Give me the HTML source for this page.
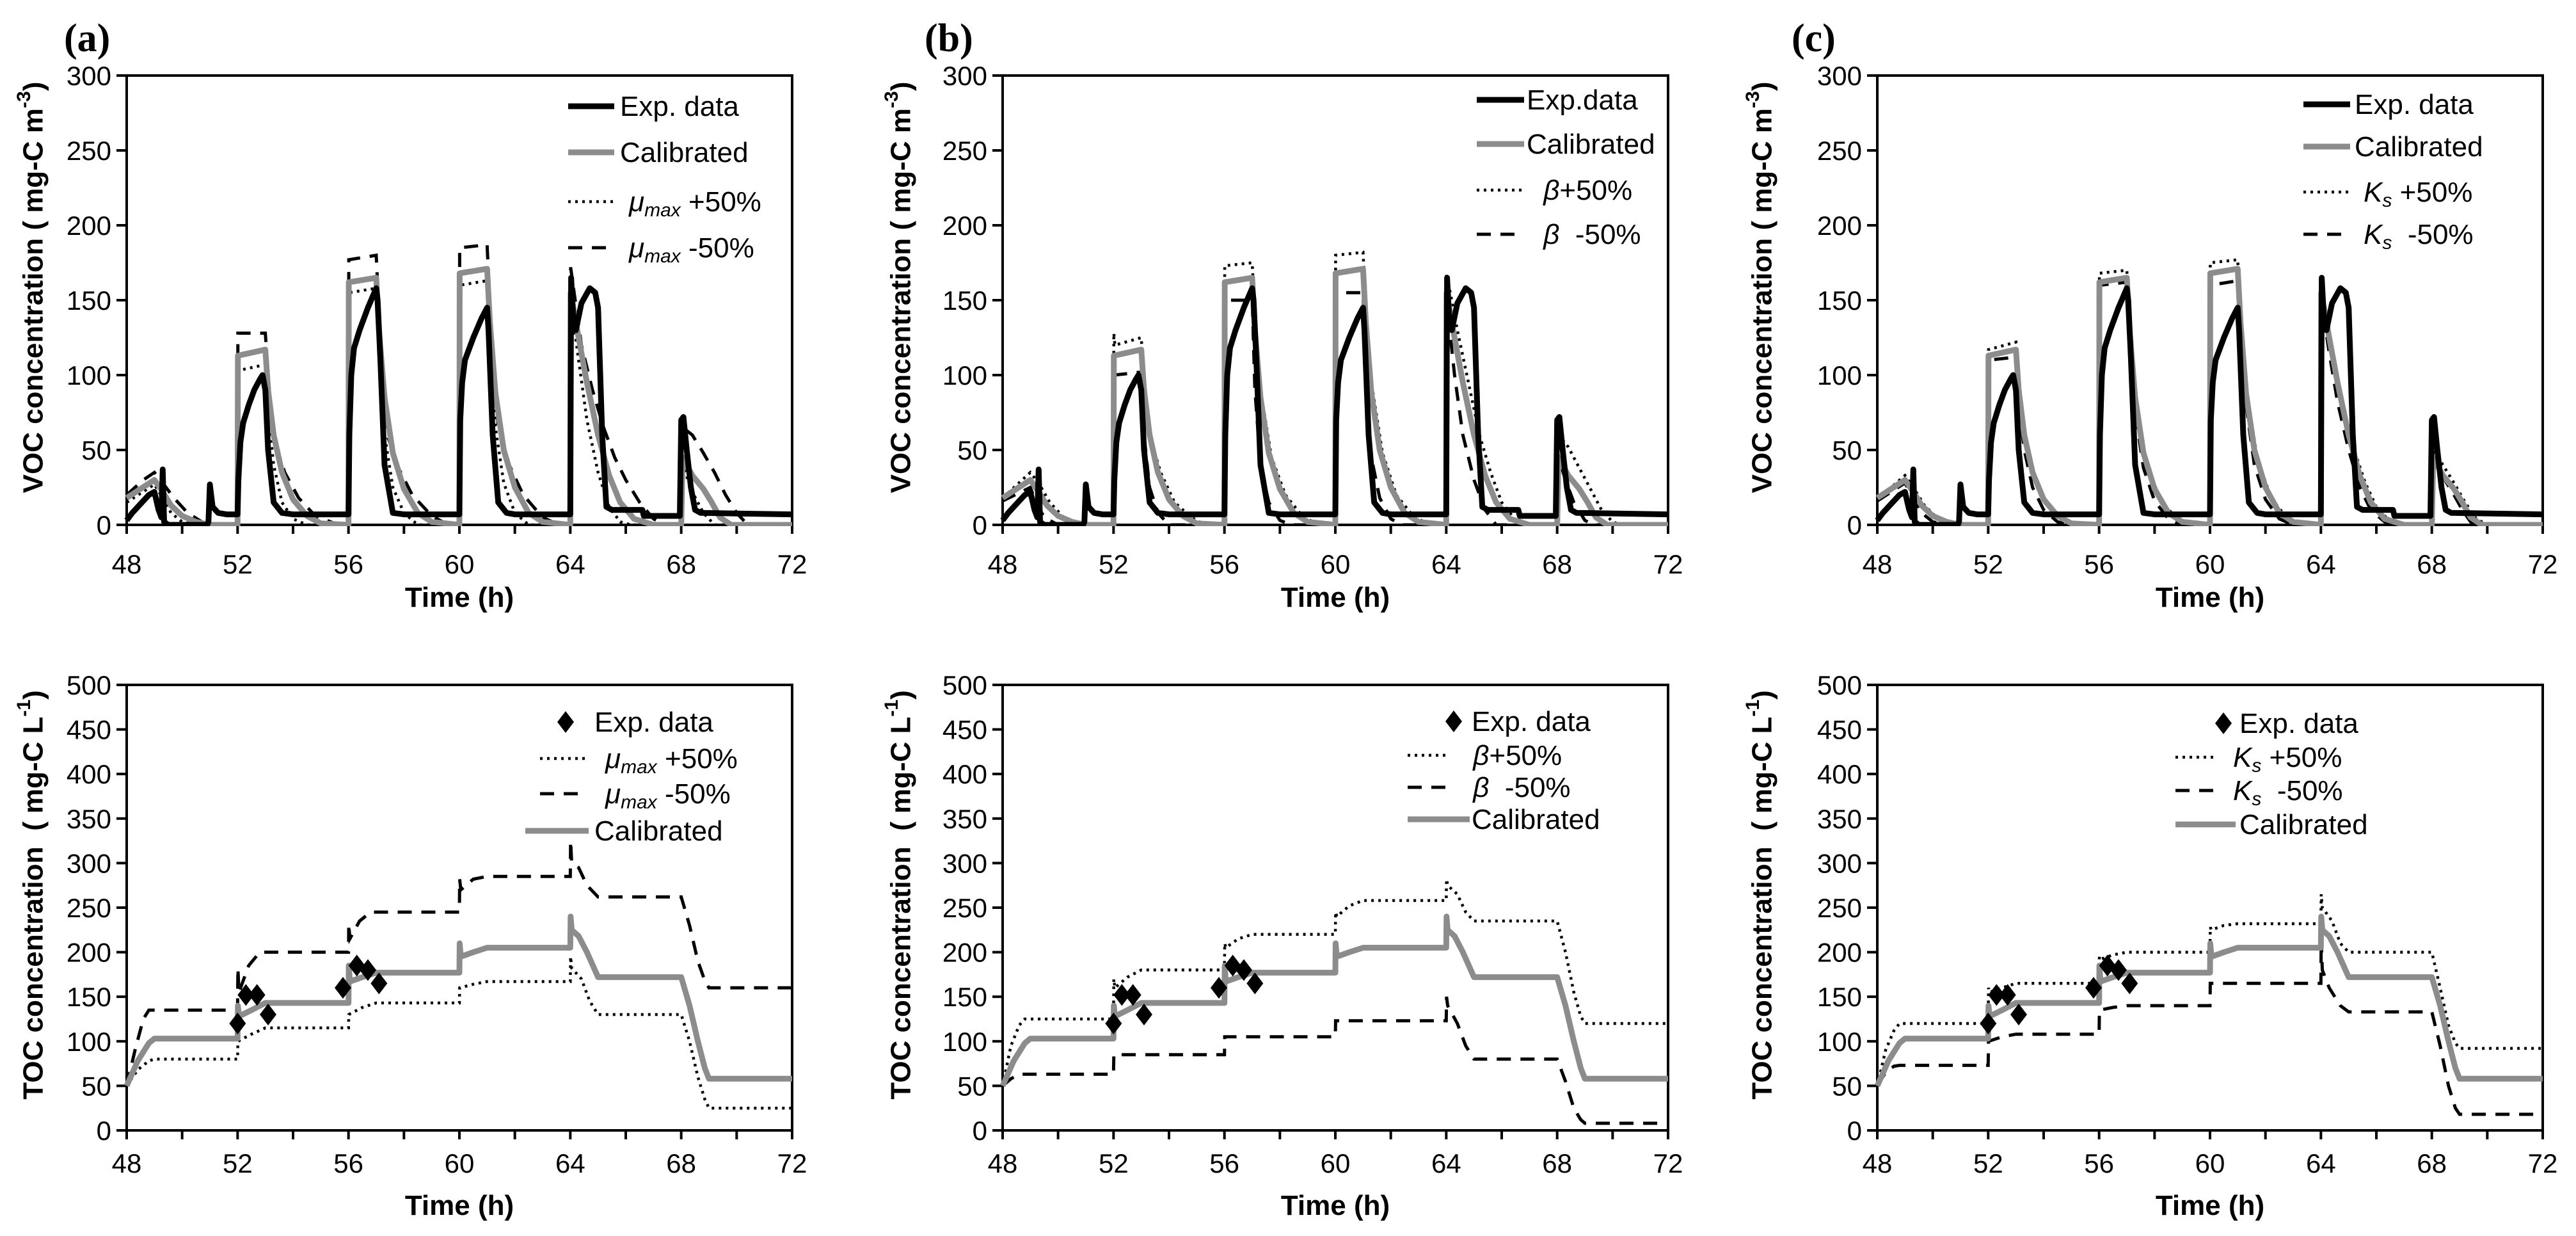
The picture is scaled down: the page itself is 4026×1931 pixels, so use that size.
<!DOCTYPE html>
<html><head><meta charset="utf-8">
<style>
html,body{margin:0;padding:0;background:#fff;}
svg{display:block;font-family:"Liberation Sans",Arial,sans-serif;}
</style></head>
<body>
<svg id="fig" width="4026" height="1931" viewBox="0 0 4026 1931" xmlns="http://www.w3.org/2000/svg"></svg>
<script>
// ===== DATA =====
const xTicks = [48,52,56,60,64,68,72];
const vocTicks = [0,50,100,150,200,250,300];
const tocTicks = [0,50,100,150,200,250,300,350,400,450,500];

const vocExp = [[48,3],[48.2,8],[48.5,14],[48.8,20],[49.0,22],[49.15,10],[49.25,5],[49.3,37],[49.35,2],[49.5,0],[50.9,0],[50.95,2],[51.0,27],[51.1,12],[51.3,8],[51.6,7],[52.0,7],[52.03,30],[52.1,55],[52.2,68],[52.4,80],[52.6,90],[52.8,97],[52.9,100],[53.0,90],[53.1,50],[53.3,15],[53.6,8],[54,7],[56.0,7],[56.03,60],[56.1,100],[56.2,118],[56.4,130],[56.7,145],[57.0,158],[57.05,150],[57.15,110],[57.3,40],[57.6,8],[58,7],[60.0,7],[60.03,70],[60.1,95],[60.2,110],[60.5,125],[60.8,138],[61.0,145],[61.05,130],[61.2,60],[61.4,15],[61.7,8],[62,7],[64.0,7],[64.03,165],[64.1,140],[64.2,130],[64.4,148],[64.7,158],[64.9,155],[65.0,145],[65.15,60],[65.3,12],[65.5,10],[66.6,10],[66.65,6],[67.8,6],[67.95,6],[68.0,70],[68.08,72],[68.2,50],[68.35,25],[68.5,10],[68.7,8],[72,7]];
const vocCal = [[48,18],[48.5,24],[49,30],[49.3,22],[49.6,13],[50,6],[50.5,2],[51,0],[52,0],[52.01,113],[53,117],[53.1,90],[53.3,60],[53.6,35],[54,17],[54.5,6],[55,1],[56,0],[56.01,162],[57,165],[57.1,130],[57.3,85],[57.6,48],[58,24],[58.5,8],[59,2],[60,0],[60.01,168],[61,171],[61.1,135],[61.3,88],[61.6,50],[62,25],[62.5,8],[63,2],[64,0],[64.01,155],[64.3,125],[64.6,95],[65,60],[65.4,33],[65.8,15],[66.3,4],[67,0],[68,0],[68.05,45],[68.4,33],[68.8,24],[69.1,15],[69.4,5],[69.8,0],[72,0]];
const vocPlusA = [[48,15],[49,27],[49.3,18],[49.6,8],[50,2],[50.5,0],[52,0],[52.01,103],[53,107],[53.1,75],[53.3,40],[53.6,15],[54,4],[54.5,0],[56,0],[56.01,155],[57,158],[57.1,110],[57.3,60],[57.6,25],[58,8],[58.5,0],[60,0],[60.01,160],[61,163],[61.1,115],[61.3,65],[61.6,28],[62,8],[62.5,0],[64,0],[64.01,150],[64.3,110],[64.6,70],[65,35],[65.4,12],[65.8,2],[66.2,0],[68,0],[68.05,40],[68.4,22],[68.8,8],[69.2,0],[72,0]];
const vocMinusA = [[48,20],[48.6,30],[49,35],[49.3,28],[49.7,18],[50.2,8],[50.8,1],[51.2,0],[52,0],[52.01,128],[53,128],[53.1,100],[53.3,58],[53.7,35],[54.2,18],[54.8,6],[55.5,1],[56,0],[56.01,177],[57,180],[57.1,140],[57.4,60],[57.8,38],[58.3,20],[59,6],[59.6,0],[60,0],[60.01,185],[61,187],[61.1,145],[61.4,65],[61.8,40],[62.3,20],[63,5],[63.6,0],[64,0],[64.01,172],[64.4,120],[64.8,90],[65.2,65],[65.6,45],[66,30],[66.5,15],[67,4],[67.4,0],[68,0],[68.05,65],[68.4,60],[68.8,48],[69.2,35],[69.6,20],[70,8],[70.4,0],[72,0]];
const vocPlusB = [[48,18],[49,35],[49.3,28],[49.7,15],[50.2,5],[50.8,0],[52,0],[52.01,128],[52.05,120],[53,125],[53.1,95],[53.3,60],[53.7,35],[54.2,15],[54.8,5],[55.3,0],[56,0],[56.01,173],[57,175],[57.1,140],[57.3,90],[57.7,45],[58.2,20],[58.8,6],[59.4,0],[60,0],[60.01,180],[61,182],[61.1,145],[61.3,95],[61.7,48],[62.2,20],[62.8,6],[63.4,0],[64,0],[64.01,168],[64.4,130],[64.8,95],[65.2,60],[65.6,35],[66,15],[66.5,3],[67,0],[68,0],[68.05,60],[68.4,52],[68.8,38],[69.2,24],[69.6,10],[70,2],[70.3,0],[72,0]];
const vocMinusB = [[48,16],[49,25],[49.2,15],[49.5,5],[50,0],[52,0],[52.01,100],[53,102],[53.1,60],[53.3,25],[53.6,8],[54,0],[56,0],[56.01,150],[57,150],[57.1,90],[57.3,40],[57.6,15],[58,3],[58.4,0],[60,0],[60.01,155],[61,155],[61.1,95],[61.3,45],[61.6,18],[62,4],[62.4,0],[64,0],[64.01,150],[64.3,100],[64.6,60],[65,30],[65.4,10],[65.8,0],[68,0],[68.05,45],[68.3,30],[68.6,15],[69,3],[69.3,0],[72,0]];
const vocPlusC = [[48,17],[49,33],[49.3,25],[49.7,13],[50.2,4],[50.8,0],[52,0],[52.01,117],[53,122],[53.1,90],[53.3,58],[53.7,30],[54.2,12],[54.8,3],[55.3,0],[56,0],[56.01,168],[57,170],[57.1,135],[57.3,88],[57.7,42],[58.2,17],[58.8,4],[59.4,0],[60,0],[60.01,175],[61,177],[61.1,140],[61.3,92],[61.7,45],[62.2,18],[62.8,4],[63.4,0],[64,0],[64.01,158],[64.4,115],[64.8,80],[65.2,50],[65.6,28],[66,12],[66.5,2],[67,0],[68,0],[68.05,50],[68.4,40],[68.8,28],[69.2,15],[69.6,4],[70,0],[72,0]];
const vocMinusC = [[48,16],[49,28],[49.3,18],[49.6,8],[50,2],[50.5,0],[52,0],[52.01,110],[53,112],[53.1,80],[53.3,50],[53.6,25],[54,10],[54.5,2],[55,0],[56,0],[56.01,160],[57,162],[57.1,120],[57.3,75],[57.6,38],[58,16],[58.5,4],[59,0],[60,0],[60.01,160],[61,163],[61.1,125],[61.3,80],[61.6,40],[62,17],[62.5,4],[63,0],[64,0],[64.01,150],[64.3,115],[64.6,82],[65,50],[65.4,25],[65.8,10],[66.3,2],[66.8,0],[68,0],[68.05,45],[68.4,32],[68.8,20],[69.1,10],[69.4,2],[69.8,0],[72,0]];

const tocCal = [[48,50],[48.4,78],[48.8,98],[49,103],[52,103],[52.01,140],[52.05,128],[52.5,135],[53,143],[56,143],[56.01,185],[56.05,167],[56.5,172],[57,177],[60,177],[60.01,210],[60.05,195],[60.5,200],[61,205],[64,205],[64.01,240],[64.05,225],[64.3,218],[64.6,200],[65,172],[68,172],[68.3,140],[68.6,100],[68.85,70],[69,58],[72,58]];
const tocExp = [[52,120],[52.3,152],[52.7,152],[53.1,130],[55.8,160],[56.3,185],[56.7,180],[57.1,165]];
const tocPlusA = [[48,50],[48.4,68],[48.8,78],[49,80],[52,80],[52.01,100],[52.5,108],[53,115],[56,115],[56.01,130],[56.5,138],[57,143],[60,143],[60.01,160],[60.5,164],[61,167],[64,167],[64.01,195],[64.05,182],[64.4,170],[64.7,145],[65,130],[68,130],[68.3,100],[68.6,60],[68.85,35],[69,25],[72,25]];
const tocMinusA = [[48,50],[48.3,90],[48.6,125],[48.8,135],[52,135],[52.01,182],[52.05,155],[52.4,185],[52.8,200],[56,200],[56.01,232],[56.05,215],[56.4,235],[56.8,245],[60,245],[60.01,282],[60.05,270],[60.5,282],[61,285],[64,285],[64.01,325],[64.05,300],[64.3,295],[64.6,275],[65,262],[68,262],[68.3,230],[68.6,190],[68.85,168],[69,160],[72,160]];
const tocPlusB = [[48,50],[48.3,95],[48.6,118],[48.8,125],[52,125],[52.01,170],[52.05,160],[52.5,172],[53,180],[56,180],[56.01,210],[56.05,205],[56.5,215],[57,220],[60,220],[60.01,245],[60.05,240],[60.5,252],[61,258],[64,258],[64.01,282],[64.05,275],[64.4,265],[64.7,245],[65,235],[68,235],[68.3,200],[68.6,155],[68.85,128],[69,120],[72,120]];
const tocMinusB = [[48,50],[48.3,58],[48.6,63],[52,63],[52.01,85],[56,85],[56.01,105],[60,105],[60.01,123],[64,123],[64.01,150],[64.05,140],[64.4,120],[64.7,95],[65,80],[68,80],[68.3,55],[68.6,25],[68.85,12],[69,8],[72,8]];
const tocPlusC = [[48,50],[48.3,90],[48.6,112],[48.8,120],[52,120],[52.01,160],[52.05,155],[52.5,160],[53,165],[56,165],[56.01,195],[56.05,192],[56.5,197],[57,200],[60,200],[60.01,228],[60.05,225],[60.5,230],[61,232],[64,232],[64.01,265],[64.05,250],[64.4,235],[64.7,210],[65,200],[68,200],[68.3,160],[68.6,118],[68.85,98],[69,92],[72,92]];
const tocMinusC = [[48,50],[48.3,65],[48.6,72],[48.8,73],[52,73],[52.01,100],[52.5,105],[53,108],[56,108],[56.01,135],[56.5,138],[57,140],[60,140],[60.01,165],[64,165],[64.01,215],[64.05,180],[64.3,160],[64.7,140],[65,133],[68,133],[68.3,95],[68.6,50],[68.85,25],[69,18],[72,18]];

// ===== DRAWING =====
const NS = "http://www.w3.org/2000/svg";
const fig = document.getElementById('fig');
function mk(tag, attrs, parent){
  const e = document.createElementNS(NS, tag);
  for (const k in attrs) e.setAttribute(k, attrs[k]);
  (parent||fig).appendChild(e);
  return e;
}
const STY = {
  exp:{stroke:'#000','stroke-width':9,fill:'none','stroke-linejoin':'round'},
  cal:{stroke:'#8c8c8c','stroke-width':9,fill:'none','stroke-linejoin':'round'},
  plus:{stroke:'#000','stroke-width':4.5,fill:'none','stroke-dasharray':'4 7'},
  minus:{stroke:'#000','stroke-width':5,fill:'none','stroke-dasharray':'22 15'}
};
const W = 1040;
const TOP = {y0:118, y1:820, max:300, ticks:vocTicks, lab:76, tt:128};
const BOT = {y0:1070, y1:1766, max:500, ticks:tocTicks, lab:66, tt:132};

function drawAxes(id, left, box, xt, ytitle, titleOff){
  const g = mk('g', {});
  
  
  const sx = t => left + (t-48)/24*W;
  const sy = v => box.y1 - v/box.max*(box.y1-box.y0);
  const fr = mk('rect', {x:left,y:box.y0,width:W,height:box.y1-box.y0,fill:'none',stroke:'#000','stroke-width':4}, g);
  
  
  for (let t=48; t<=72; t+=2){
    const tk = mk('line',{x1:sx(t),x2:sx(t),y1:box.y1,y2:box.y1+14,stroke:'#000','stroke-width':4}, g);
    
    
  }
  xt.forEach(t=>{
    const tx = mk('text',{x:sx(t),y:box.y1+box.lab,'font-size':42,'text-anchor':'middle'}, g);
    tx.textContent = t;
    
    
  });
  box.ticks.forEach(v=>{
    const tk = mk('line',{x1:left-16,x2:left,y1:sy(v),y2:sy(v),stroke:'#000','stroke-width':4}, g);
    
    
    const tx = mk('text',{x:left-24,y:sy(v)+15,'font-size':42,'text-anchor':'end'}, g);
    tx.textContent = v;
    
    
  });
  const xtitle = mk('text',{x:left+W/2,y:box.y1+box.tt,'font-size':44,'font-weight':'bold','text-anchor':'middle'}, g);
  xtitle.textContent = 'Time (h)';
  
  
  const cy = (box.y0+box.y1)/2 - 20;
  const tx0 = left - titleOff;
  const yt = mk('text',{x:tx0,y:cy,'font-size':44,'font-weight':'bold','text-anchor':'middle',transform:`rotate(-90 ${tx0} ${cy})`,'dominant-baseline':'middle'}, g);
  yt.innerHTML = ytitle;
  
  
  return {sx, sy};
}
function drawLine(id, pts, sc, style, clipId, name){
  const d = pts.map((p,i)=>(i?'L':'M')+sc.sx(p[0]).toFixed(1)+' '+sc.sy(p[1]).toFixed(1)).join(' ');
  const attrs = Object.assign({d:d,'clip-path':`url(#${clipId})`}, STY[style]);
  const p = mk('path', attrs);
  
  
}
function clip(id, left, box){
  const defs = mk('defs',{});
  const cp = mk('clipPath',{id:id}, defs);
  mk('rect',{x:left-4,y:box.y0,width:W+8,height:box.y1-box.y0+2}, cp);
}
function legendRow(id, x1, x2, tx, y, style, label){
  const g = mk('g',{});
  
  
  if (style==='diamond'){
    const c = (x1+x2)/2;
    mk('path',{d:`M${c} ${y-17} L${c+13} ${y} L${c} ${y+17} L${c-13} ${y} Z`,fill:'#000'}, g);
  } else {
    mk('line', Object.assign({x1:x1,x2:x2,y1:y,y2:y}, STY[style]), g);
  }
  const t = mk('text',{x:tx,y:y+15,'font-size':44}, g);
  t.innerHTML = label;
  
  
}
function panelLabel(txt, x){
  const t = mk('text',{x:x,y:80,'font-size':62,'font-weight':'bold','font-family':'"Liberation Serif",serif'});
  t.textContent = txt;
  
  
}

const VOC_T = 'VOC concentration ( mg-C m<tspan dy="-16" font-size="30">-3</tspan><tspan dy="16">)</tspan>';
const TOC_T = 'TOC concentration \u00a0( mg-C L<tspan dy="-16" font-size="30">-1</tspan><tspan dy="16">)</tspan>';
const MU = '<tspan font-style="italic">μ</tspan><tspan font-style="italic" font-size="30" dy="8">max</tspan><tspan dy="-8"> </tspan>';
const BETA = '<tspan font-style="italic">β</tspan>';
const KS = '<tspan font-style="italic">K</tspan><tspan font-style="italic" font-size="30" dy="8">s</tspan><tspan dy="-8"> </tspan>';

const panels = [
  {id:'a', left:198, lab:100, toff:143, plusV:vocPlusA, minusV:vocMinusA, plusT:tocPlusA, minusT:tocMinusA,
   expLab:'Exp. data', plusL:MU+'+50%', minusL:MU+'-50%',
   tl:{l1:690,l2:762,t:771,rows:[166,238,315,387]},
   bl:{d:686,dt:731,l1:646,l2:717,t:748,c1:623,c2:722,ct:731,rows:[1128,1185,1240,1298]}},
  {id:'b', left:1567, lab:1445, toff:156, plusV:vocPlusB, minusV:vocMinusB, plusT:tocPlusB, minusT:tocMinusB,
   expLab:'Exp.data', plusL:'\u00a0'+BETA+'+50%', minusL:'\u00a0'+BETA+'\u00a0 -50%',
   tl:{l1:741,l2:815,t:819,rows:[156,225,297,366]},
   bl:{d:705,dt:733,l1:633,l2:698,t:723,c1:633,c2:730,ct:733,rows:[1127,1180,1230,1280]}},
  {id:'c', left:2934, lab:2800, toff:177, plusV:vocPlusC, minusV:vocMinusC, plusT:tocPlusC, minusT:tocMinusC,
   expLab:'Exp. data', plusL:KS+'+50%', minusL:KS+'\u00a0-50%',
   tl:{l1:666,l2:739,t:746,rows:[163,229,300,366]},
   bl:{d:541,dt:566,l1:466,l2:531,t:556,c1:466,c2:560,ct:566,rows:[1130,1183,1235,1288]}}
];

panels.forEach(p=>{
  panelLabel('('+p.id+')', p.lab);
  const cT = 'clipTop'+p.id;
  clip(cT, p.left, TOP);
  const sT = drawAxes('voc-'+p.id, p.left, TOP, xTicks, VOC_T, p.toff);
  drawLine('voc-'+p.id, p.minusV, sT, 'minus', cT, 'minus50-line');
  drawLine('voc-'+p.id, p.plusV, sT, 'plus', cT, 'plus50-line');
  drawLine('voc-'+p.id, vocCal, sT, 'cal', cT, 'calibrated-line');
  drawLine('voc-'+p.id, vocExp, sT, 'exp', cT, 'exp-data-line');
  const L = p.left, tl = p.tl;
  legendRow('voc-'+p.id+'-legend-exp', L+tl.l1, L+tl.l2, L+tl.t, tl.rows[0], 'exp', p.expLab);
  legendRow('voc-'+p.id+'-legend-cal', L+tl.l1, L+tl.l2, L+tl.t, tl.rows[1], 'cal', 'Calibrated');
  legendRow('voc-'+p.id+'-legend-plus', L+tl.l1, L+tl.l2, L+tl.t+14, tl.rows[2], 'plus', p.plusL);
  legendRow('voc-'+p.id+'-legend-minus', L+tl.l1, L+tl.l2, L+tl.t+14, tl.rows[3], 'minus', p.minusL);
  const cB = 'clipBot'+p.id;
  clip(cB, p.left, BOT);
  const sB = drawAxes('toc-'+p.id, p.left, BOT, xTicks, TOC_T, p.toff);
  drawLine('toc-'+p.id, p.plusT, sB, 'plus', cB, 'plus50-line');
  drawLine('toc-'+p.id, p.minusT, sB, 'minus', cB, 'minus50-line');
  drawLine('toc-'+p.id, tocCal, sB, 'cal', cB, 'calibrated-line');
  tocExp.forEach(pt=>{
    const x = sB.sx(pt[0]), y = sB.sy(pt[1]);
    const m = mk('path',{d:`M${x} ${y-17} L${x+13} ${y} L${x} ${y+17} L${x-13} ${y} Z`,fill:'#000'});
    
    
  });
  const bl = p.bl;
  legendRow('toc-'+p.id+'-legend-exp', L+bl.d-10, L+bl.d+10, L+bl.dt, bl.rows[0], 'diamond', 'Exp. data');
  legendRow('toc-'+p.id+'-legend-plus', L+bl.l1, L+bl.l2, L+bl.t, bl.rows[1], 'plus', p.plusL);
  legendRow('toc-'+p.id+'-legend-minus', L+bl.l1, L+bl.l2, L+bl.t, bl.rows[2], 'minus', p.minusL);
  legendRow('toc-'+p.id+'-legend-cal', L+bl.c1, L+bl.c2, L+bl.ct, bl.rows[3], 'cal', 'Calibrated');
});
</script>
</body></html>
